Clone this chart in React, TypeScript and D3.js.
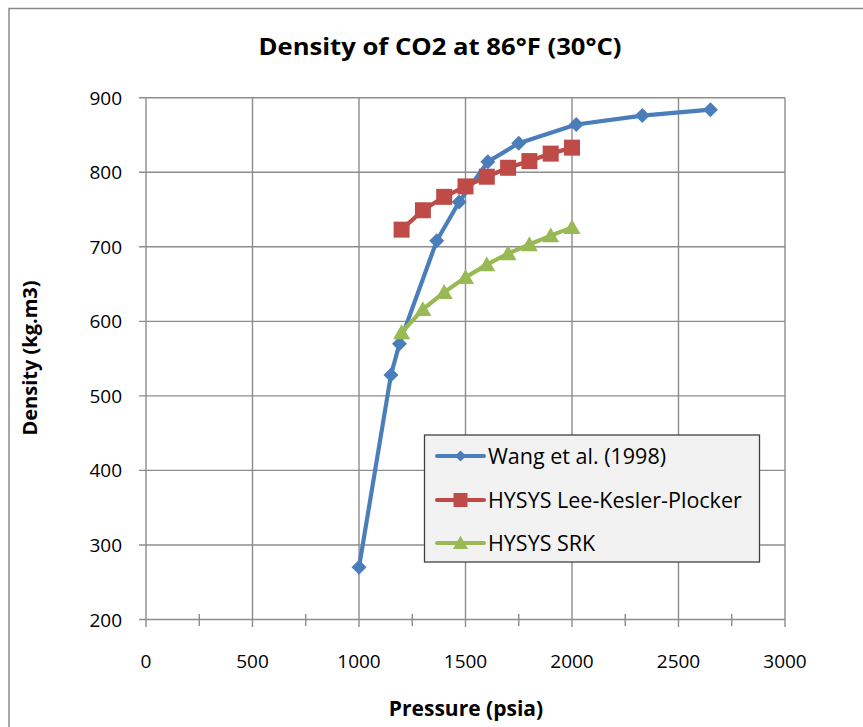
import React from "react";
import * as d3 from "d3";

const wangP = [1000, 1150, 1190, 1365, 1470, 1605, 1750, 2020, 2330, 2650];
const wangD = [270, 528, 570, 708, 760, 814, 839, 864, 876, 884];
const lkpP = [1200, 1300, 1400, 1500, 1600, 1700, 1800, 1900, 2000];
const lkpD = [723, 749, 767, 781, 794, 806, 815, 825, 833];
const srkP = [1200, 1300, 1400, 1500, 1600, 1700, 1800, 1900, 2000];
const srkD = [585, 616, 639, 659, 676, 691, 703, 715, 726];
const xTicks = [0, 500, 1000, 1500, 2000, 2500, 3000];
const xMinor = [250, 750, 1250, 1750, 2250, 2750];
const yTicks = [200, 300, 400, 500, 600, 700, 800, 900];
const seriesNames = ["Wang et al. (1998)", "HYSYS Lee-Kesler-Plocker", "HYSYS SRK"];
const colors = ["#4A7EBB", "#BE4B48", "#98B954"];

const FONT = "'Open Sans', Lato, sans-serif";

function marker(kind: string, s: number) {
  if (kind === "diamond") return `M0,${-s}L${s},0L0,${s}L${-s},0Z`;
  if (kind === "square") return `M${-s},${-s}H${s}V${s}H${-s}Z`;
  const h = s * 1.75;
  return `M0,${-h * 0.55}L${s},${h * 0.45}L${-s},${h * 0.45}Z`;
}

export default function App() {
  const x = d3.scaleLinear().domain([0, 3000]).range([146, 785]);
  const y = d3.scaleLinear().domain([200, 900]).range([619.5, 97.7]);
  const line = d3
    .line<[number, number]>()
    .x((d) => x(d[0]))
    .y((d) => y(d[1]));

  const series = [
    { p: wangP, d: wangD, kind: "diamond", size: 7.5, lsize: 5.5 },
    { p: lkpP, d: lkpD, kind: "square", size: 8, lsize: 7 },
    { p: srkP, d: srkD, kind: "triangle", size: 8.5, lsize: 7.5 },
  ];

  const grid = "#8C8C8C";
  const legendX = 424.5;
  const legendY = 435;
  const legendRows = [456, 500, 543];

  return (
    <svg
      width={863}
      height={727}
      style={{ position: "absolute", left: 0, top: 0, background: "#fff" }}
    >
      <rect x={9} y={8.5} width={870} height={740} fill="#fff" stroke="#8A8A8A" strokeWidth={1.5} />
      <text x={440} y={55} textAnchor="middle" fontFamily={FONT} fontWeight="bold" fontSize={24} fill="#000"
        textLength={363} lengthAdjust="spacingAndGlyphs">
        Density of CO2 at 86°F (30°C)
      </text>
      {/* gridlines */}
      {yTicks.map((t) => (
        <line key={"gy" + t} x1={139} x2={785} y1={y(t)} y2={y(t)} stroke={grid} strokeWidth={1.4} />
      ))}
      {xTicks.map((t) => (
        <line key={"gx" + t} x1={x(t)} x2={x(t)} y1={97.7} y2={627} stroke={grid} strokeWidth={1.4} />
      ))}
      {xMinor.map((t) => (
        <line key={"mx" + t} x1={x(t)} x2={x(t)} y1={614} y2={626} stroke={grid} strokeWidth={1.4} />
      ))}
      {yTicks.map((t) => (
        <text key={"ty" + t} x={122} y={y(t) + 7} textAnchor="end" fontFamily={FONT} fontSize={19} fill="#000">
          {t}
        </text>
      ))}
      {xTicks.map((t) => (
        <text key={"tx" + t} x={x(t)} y={668} textAnchor="middle" fontFamily={FONT} fontSize={19} fill="#000">
          {t}
        </text>
      ))}
      <text x={466} y={716} textAnchor="middle" fontFamily={FONT} fontWeight="bold" fontSize={21} fill="#000">
        Pressure (psia)
      </text>
      <text
        transform="translate(37,358) rotate(-90)"
        textAnchor="middle"
        fontFamily={FONT}
        fontWeight="bold"
        fontSize={20}
        fill="#000"
      >
        Density (kg.m3)
      </text>
      {/* series */}
      {series.map((s, i) => {
        const pts = s.p.map((p, j) => [p, s.d[j]] as [number, number]);
        return (
          <g key={"s" + i}>
            <path d={line(pts) || ""} fill="none" stroke={colors[i]} strokeWidth={4.2} strokeLinejoin="round" />
            {pts.map((pt, j) => (
              <path
                key={j}
                transform={`translate(${x(pt[0])},${y(pt[1])})`}
                d={marker(s.kind, s.size)}
                fill={colors[i]}
              />
            ))}
          </g>
        );
      })}
      {/* legend */}
      <rect x={legendX} y={legendY} width={335} height={127} fill="#F2F2F2" stroke="#404040" strokeWidth={1.3} />
      {series.map((s, i) => (
        <g key={"l" + i}>
          <line x1={437} x2={484} y1={legendRows[i]} y2={legendRows[i]} stroke={colors[i]} strokeWidth={4} strokeLinecap="round" />
          <path transform={`translate(460.5,${legendRows[i]})`} d={marker(s.kind, s.lsize)} fill={colors[i]} />
          <text x={488} y={legendRows[i] + 7.5} fontFamily={FONT} fontSize={21.5} fill="#000">
            {seriesNames[i]}
          </text>
        </g>
      ))}
    </svg>
  );
}
